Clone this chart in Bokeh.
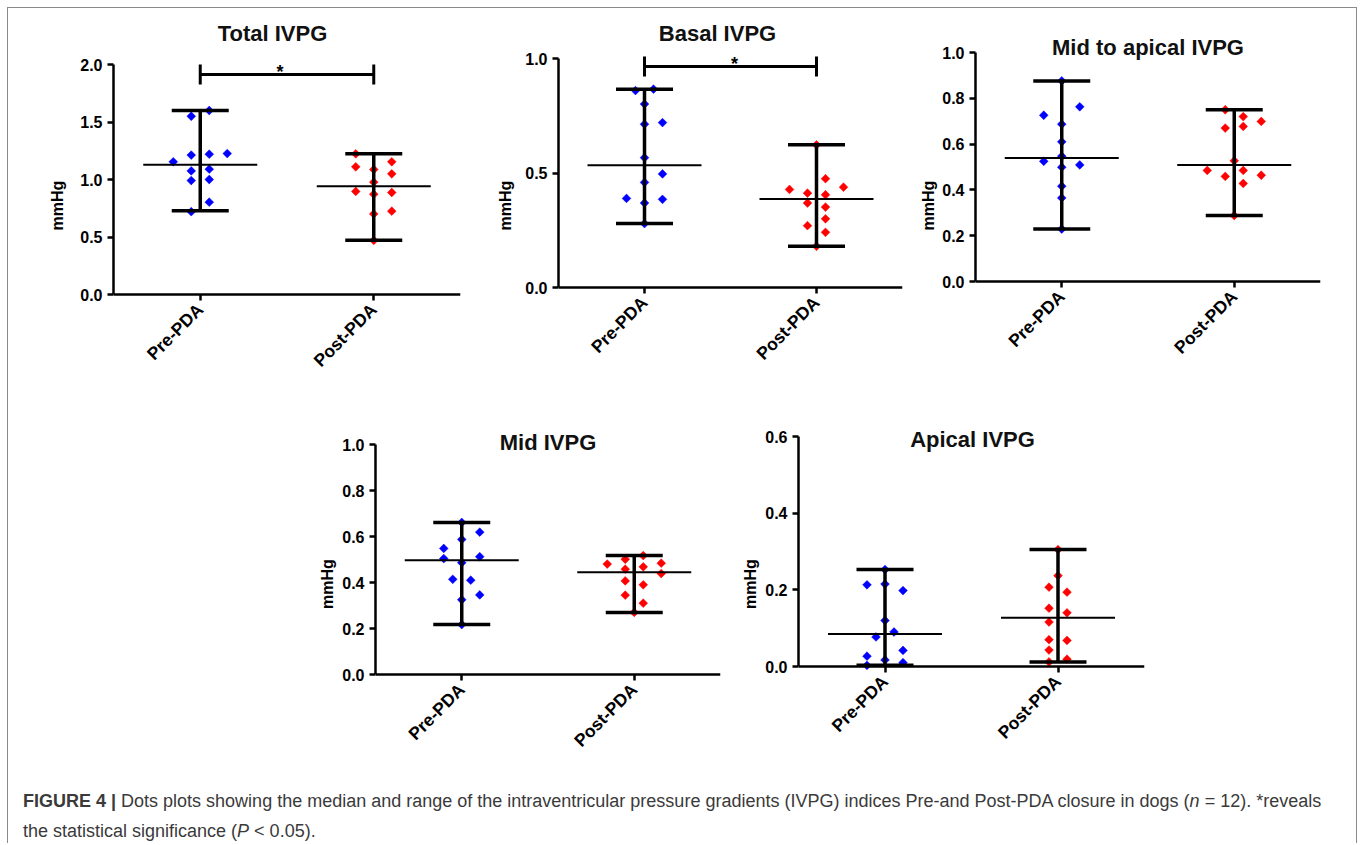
from math import pi
from bokeh.plotting import figure
from bokeh.models import (Range1d, FixedTicker, PrintfTickFormatter, Label, Spacer, Div)
from bokeh.layouts import row, column
from bokeh.embed import file_html
from bokeh.resources import INLINE

# ---------------- data ----------------
categories = ["Pre-PDA", "Post-PDA"]
titles = ["Total IVPG", "Basal IVPG", "Mid to apical IVPG", "Mid IVPG", "Apical IVPG"]
y_label = "mmHg"

total_pre = [1.60, 1.55, 1.154, 1.212, 1.220, 1.226, 1.075, 1.090, 0.991, 1.000, 0.803, 0.72]
total_post = [1.223, 1.110, 1.087, 1.154, 1.049, 0.977, 0.896, 0.872, 0.887, 0.701, 0.725, 0.47]
basal_pre = [0.86, 0.866, 0.801, 0.713, 0.720, 0.567, 0.496, 0.459, 0.389, 0.385, 0.369, 0.279]
basal_post = [0.623, 0.475, 0.438, 0.428, 0.412, 0.405, 0.369, 0.351, 0.300, 0.270, 0.241, 0.180]
midap_pre = [0.876, 0.763, 0.726, 0.687, 0.610, 0.547, 0.525, 0.509, 0.499, 0.416, 0.365, 0.229]
midap_post = [0.750, 0.720, 0.670, 0.677, 0.699, 0.527, 0.485, 0.485, 0.459, 0.464, 0.428, 0.288]
mid_pre = [0.661, 0.619, 0.587, 0.548, 0.512, 0.504, 0.486, 0.414, 0.410, 0.346, 0.325, 0.217]
mid_post = [0.517, 0.501, 0.480, 0.484, 0.458, 0.468, 0.439, 0.407, 0.390, 0.345, 0.310, 0.270]
apical_pre = [0.253, 0.213, 0.215, 0.198, 0.120, 0.090, 0.077, 0.042, 0.027, 0.017, 0.010, 0.003]
apical_post = [0.305, 0.237, 0.207, 0.194, 0.152, 0.140, 0.116, 0.070, 0.068, 0.043, 0.019, 0.012]

# median, min, max  (as drawn)
total_stats = [(1.128, 0.728, 1.60), (0.942, 0.472, 1.223)]
basal_stats = [(0.534, 0.279, 0.866), (0.386, 0.180, 0.623)]
midap_stats = [(0.539, 0.229, 0.876), (0.509, 0.288, 0.750)]
mid_stats = [(0.497, 0.217, 0.661), (0.445, 0.270, 0.517)]
apical_stats = [(0.085, 0.003, 0.253), (0.127, 0.012, 0.305)]

# axis maxima and tick steps
y_max = [2.0, 1.0, 1.0, 1.0, 0.6]
y_step = [0.5, 0.5, 0.2, 0.2, 0.2]

# significance brackets (y value) for the plots that have one
total_bracket = 1.913
basal_bracket = 0.965

# ---------------- layout of the swarm (column slots) ----------------
total_pre_slots = [1, -1, -3, -1, 1, 3, -1, 1, -1, 1, 1, -1]
total_post_slots = [-2, -2, 0, 2, 2, 0, -2, 0, 2, 0, 2, 0]
basal_pre_slots = [-1, 1, 0, 0, 2, 0, 2, 0, -2, 2, 0, 0]
basal_post_slots = [0, 1, 3, -3, -1, 1, -1, 1, 1, -1, 1, 0]
midap_pre_slots = [0, 2, -2, 0, 0, 0, -2, 2, 0, 0, 0, 0]
midap_post_slots = [-1, 1, -1, 1, 3, 0, -3, 1, -1, 3, 1, 0]
mid_pre_slots = [0, 2, 0, -2, 2, -2, 0, -1, 1, 2, 0, 0]
mid_post_slots = [1, -1, -3, 3, -1, 1, 3, -1, 1, -1, 1, 0]
apical_pre_slots = [0, -2, 0, 2, 0, 1, -1, 2, -2, 0, 2, -2]
apical_post_slots = [0, 0, -1, 1, -1, 1, -1, -1, 1, -1, 1, -1]

SLOT_PX = 9
FONT = "Liberation Sans"
COLORS = ["#0000FF", "#FF0000"]


def make_panel(title, groups, ymax, ystep, hgeom, vgeom, label_standoff, title_dxy,
               bracket=None, star_dx=0):
    # hgeom: canvas x0, canvas x1, frame left, frame width  (page px)
    # vgeom: canvas y0, canvas y1, frame top, frame bottom, y of value 0, y of ymax (page px)
    cx0, cx1, fl, fw = hgeom
    cy0, cy1, ft, fb, Y0, Ytop = vgeom
    uy = (Y0 - Ytop) / ymax
    ux = fw / 2.0
    y_start = -(fb - Y0) / uy
    y_end = ymax + (Ytop - ft) / uy
    p = figure(width=cx1 - cx0, height=cy1 - cy0,
               min_border_left=fl - cx0, min_border_right=cx1 - (fl + fw),
               min_border_top=ft - cy0, min_border_bottom=cy1 - fb,
               x_range=Range1d(0, 2), y_range=Range1d(y_start, y_end),
               output_backend="svg", toolbar_location=None, tools="")
    centers = [0.5, 1.5]
    for i, (vals, slots, stats) in enumerate(groups):
        c = centers[i]
        xs = [c + s * SLOT_PX / ux for s in slots]
        p.scatter(xs, vals, marker="square", angle=pi / 4, size=6.2,
                  fill_color=COLORS[i], line_color=COLORS[i], line_width=0.5)
    for i, (vals, slots, stats) in enumerate(groups):
        c = centers[i]
        med, lo, hi = stats
        cap = 28.5 / ux
        mh = 57 / ux
        p.segment(x0=[c], y0=[lo], x1=[c], y1=[hi], line_width=3.5, line_color="black")
        p.segment(x0=[c - cap, c - cap], y0=[lo, hi], x1=[c + cap, c + cap], y1=[lo, hi],
                  line_width=3.5, line_color="black")
        p.segment(x0=[c - mh], y0=[med], x1=[c + mh], y1=[med], line_width=2,
                  line_color="black")
    if bracket is not None:
        h = 10 / uy
        p.segment(x0=[0.5, 0.5, 1.5], y0=[bracket, bracket - h, bracket - h],
                  x1=[1.5, 0.5, 1.5], y1=[bracket, bracket + h, bracket + h],
                  line_width=3, line_color="black")
        p.add_layout(Label(x=1 + star_dx / ux, y=bracket + 3 / uy, text="*",
                           text_align="center", text_baseline="alphabetic",
                           text_font=FONT, text_font_style="bold",
                           text_font_size="18px", text_color="black"))
    dx, dy = title_dxy
    p.add_layout(Label(x=1 + dx / ux, y=ymax + dy / uy, text=title,
                       text_align="center", text_baseline="middle",
                       text_font=FONT, text_font_style="bold",
                       text_font_size="22px", text_color="#111111"))

    p.xgrid.visible = False
    p.ygrid.visible = False
    p.outline_line_color = None
    p.background_fill_color = "white"
    p.border_fill_color = "white"
    for ax in (p.xaxis[0], p.yaxis[0]):
        ax.axis_line_width = 2.5
        ax.axis_line_color = "black"
        ax.major_tick_line_width = 2.5
        ax.major_tick_line_color = "black"
        ax.major_tick_out = 6
        ax.major_tick_in = 0
        ax.minor_tick_out = 0
        ax.minor_tick_in = 0
        ax.major_label_text_font = FONT
        ax.major_label_text_font_style = "bold"
        ax.major_label_text_font_size = "16px"
        ax.major_label_text_color = "black"
    xa = p.xaxis[0]
    xa.fixed_location = 0
    xa.ticker = FixedTicker(ticks=centers)
    xa.major_label_overrides = {centers[0]: categories[0], centers[1]: categories[1]}
    xa.major_label_orientation = pi / 4
    xa.major_label_standoff = 6
    xa.major_label_text_font_size = "17.5px"
    ya = p.yaxis[0]
    n = int(round(ymax / ystep))
    ya.ticker = FixedTicker(ticks=[round(k * ystep, 6) for k in range(n + 1)])
    ya.bounds = (0, ymax)
    ya.formatter = PrintfTickFormatter(format="%.1f")
    ya.axis_label = y_label
    ya.axis_label_text_font = FONT
    ya.axis_label_text_font_style = "bold"
    ya.axis_label_text_font_size = "16px"
    ya.axis_label_text_color = "black"
    ya.axis_label_standoff = label_standoff
    return p


R1 = (8, 400, 14, 396)     # row 1: canvas y0, y1, common frame top, bottom
R2 = (400, 765, 405, 762)  # row 2

p1 = make_panel(titles[0], [(total_pre, total_pre_slots, total_stats[0]),
                            (total_post, total_post_slots, total_stats[1])],
                y_max[0], y_step[0], (8, 490, 113, 347), R1 + (294, 64), 11, (-14.5, 31),
                bracket=total_bracket, star_dx=-7)
p2 = make_panel(titles[1], [(basal_pre, basal_pre_slots, basal_stats[0]),
                            (basal_post, basal_post_slots, basal_stats[1])],
                y_max[1], y_step[1], (490, 905, 558, 344), R1 + (287, 58), 8, (-13, 25),
                bracket=basal_bracket, star_dx=4)
p3 = make_panel(titles[2], [(midap_pre, midap_pre_slots, midap_stats[0]),
                            (midap_post, midap_post_slots, midap_stats[1])],
                y_max[2], y_step[2], (905, 1354, 975, 345), R1 + (281, 52), 2, (0, 5))
p4 = make_panel(titles[3], [(mid_pre, mid_pre_slots, mid_stats[0]),
                            (mid_post, mid_post_slots, mid_stats[1])],
                y_max[3], y_step[3], (300, 726, 375, 345), R2 + (674, 444), 3, (0, 2))
p5 = make_panel(titles[4], [(apical_pre, apical_pre_slots, apical_stats[0]),
                            (apical_post, apical_post_slots, apical_stats[1])],
                y_max[4], y_step[4], (726, 1160, 798, 346), R2 + (666, 436), 3, (1, -3))

caption = Div(
    text=('<div style="padding:21px 0 0 15px; font-family:\'Liberation Sans\',Arial,sans-serif; '
          'font-size:18px; line-height:30px; color:#3a3a3a; white-space:nowrap;">'
          '<b>FIGURE 4 |</b> Dots plots showing the median and range of the intraventricular '
          'pressure gradients (IVPG) indices Pre-and Post-PDA closure in dogs (<i>n</i> = 12). '
          '*reveals<br>the statistical significance (<i>P</i> &lt; 0.05).</div>'),
    width=1348, height=78, margin=0)

layout = column(
    row(p1, p2, p3),
    row(Spacer(width=292, height=365), p4, p5),
    caption,
    styles={"border": "1px solid #8a8a8a", "border-bottom": "none",
            "background-color": "white", "margin": "7px 0 0 7px"},
)

open("out.html", "w").write(file_html(layout, INLINE))
